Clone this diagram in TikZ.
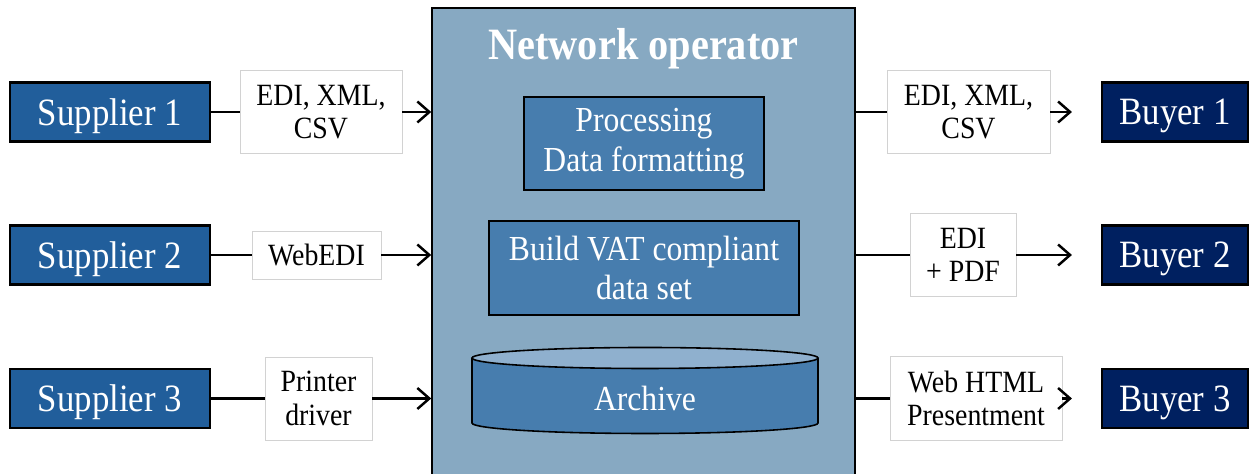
\documentclass[tikz,border=0pt]{standalone}
\usepackage{fontspec}
\setmainfont[FakeStretch=0.9]{Liberation Serif}
\usepackage{tikz}
\usetikzlibrary{arrows.meta}
\definecolor{supblue}{RGB}{33,94,155}
\definecolor{buynavy}{RGB}{0,32,96}
\definecolor{netgrey}{RGB}{135,169,194}
\definecolor{boxblue}{RGB}{71,125,174}
\definecolor{archtop}{RGB}{143,176,206}
\definecolor{fmtline}{RGB}{210,210,210}

\begin{document}
\begin{tikzpicture}
        \useasboundingbox (0,0) rectangle (25,9.48);
        \node [draw, line width=0.9pt, fill=netgrey, inner sep=0, minimum width=8.46cm, minimum height=9.5cm] (net) at (12.87,4.57) {};
        \node [text=white, font=\bfseries\fontsize{25.5}{28}\selectfont] (title) at (12.87,8.5) {Network operator};
        \begin{scope}[every node/.style={draw, line width=0.9pt, fill=boxblue, text=white, align=center, inner sep=0, font=\fontsize{20}{22.5}\selectfont}]
                \node [minimum width=4.8cm, minimum height=1.86cm] (proc) at (12.88,6.61) {Processing\\Data formatting};
                \node [minimum width=6.2cm, minimum height=1.88cm] (vat) at (12.88,4.12) {Build VAT compliant\\data set};
        \end{scope}
        \filldraw [line width=0.9pt, fill=boxblue] (9.44,2.32) -- (9.44,1.02) arc [start angle=180, end angle=360, x radius=3.46, y radius=0.21] -- (16.36,2.32);
        \filldraw [line width=0.9pt, fill=archtop] (12.9,2.32) ellipse [x radius=3.46, y radius=0.21];
        \node [text=white, font=\fontsize{20}{24}\selectfont] (arch) at (12.9,1.52) {Archive};
        \begin{scope}[every node/.style={draw, line width=1.2pt, text=white, inner sep=0, text depth=0pt, minimum height=1.18cm, font=\fontsize{22}{26}\selectfont}]
                \node [fill=supblue, minimum width=4cm] (S1) at (2.2,7.24) {Supplier 1};
                \node [fill=supblue, minimum width=4cm] (S2) at (2.2,4.38) {Supplier 2};
                \node [fill=supblue, minimum width=4cm] (S3) at (2.2,1.51) {Supplier 3};
                \node [fill=buynavy, minimum width=2.92cm] (B1) at (23.5,7.24) {Buyer 1};
                \node [fill=buynavy, minimum width=2.92cm] (B2) at (23.5,4.38) {Buyer 2};
                \node [fill=buynavy, minimum width=2.92cm] (B3) at (23.5,1.51) {Buyer 3};
        \end{scope}
        \begin{scope}[every node/.style={draw=fmtline, fill=white, align=center, inner sep=0, font=\fontsize{17.6}{19}\selectfont}]
                \node [minimum width=3.24cm, minimum height=1.66cm] (L1) at (6.42,7.24) {EDI, XML,\\CSV};
                \node [minimum width=2.58cm, minimum height=0.96cm] (L2) at (6.33,4.38) {WebEDI};
                \node [minimum width=2.14cm, minimum height=1.66cm] (L3) at (6.37,1.51) {Printer\\driver};
                \node [minimum width=3.26cm, minimum height=1.66cm] (R1) at (19.37,7.24) {EDI, XML,\\CSV};
                \node [minimum width=2.12cm, minimum height=1.66cm] (R2) at (19.26,4.38) {EDI\\+ PDF};
                \node [minimum width=3.44cm, minimum height=1.68cm] (R3) at (19.52,1.51) {Web HTML\\Presentment};
        \end{scope}
        \begin{scope}[line width=1.4pt]
                \draw (S1) -- (L1);
                \draw (S2) -- (L2);
                \draw (S3) -- (L3);
                \draw (R1 -| net.east) -- (R1);
                \draw (R2 -| net.east) -- (R2);
                \draw (R3 -| net.east) -- (R3);
        \end{scope}
        \begin{scope}[line width=1.4pt, ->, >={Straight Barb[length=2.4mm,width=4.2mm]}]
                \draw (L1) -- (L1 -| net.west);
                \draw (L2) -- (L2 -| net.west);
                \draw (L3) -- (L3 -| net.west);
                \draw [shorten >=0.58cm] (R1) -- (B1);
                \draw [shorten >=0.58cm] (R2) -- (B2);
                \draw [shorten >=0.58cm] (R3) -- (B3);
        \end{scope}
\end{tikzpicture}
\end{document}
